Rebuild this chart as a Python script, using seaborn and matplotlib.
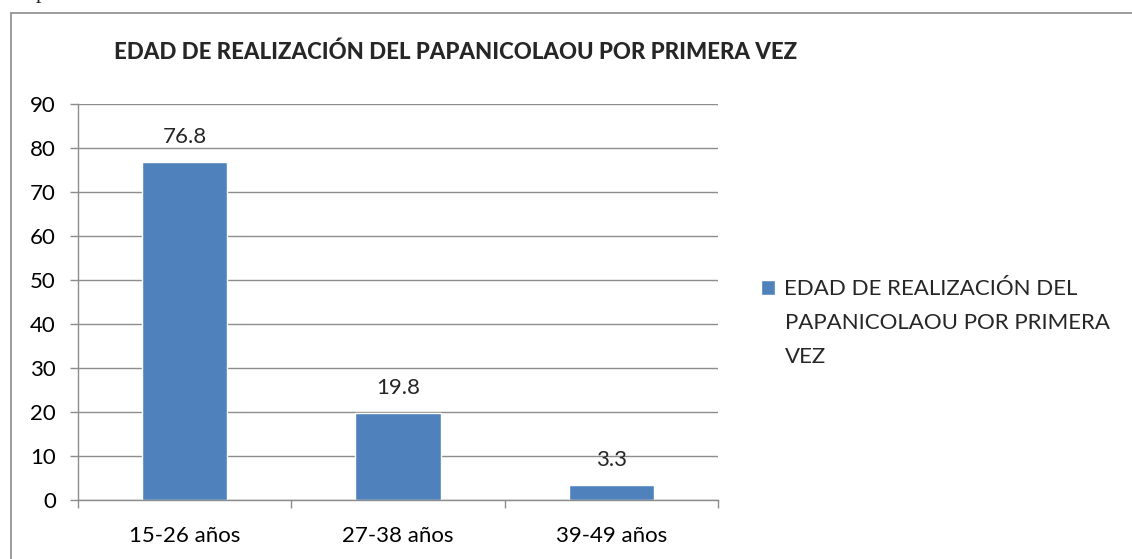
import matplotlib
matplotlib.use("Agg")
import matplotlib.pyplot as plt
import seaborn as sns
import pandas as pd
from matplotlib.patches import Rectangle

categories = ["15-26 años", "27-38 años", "39-49 años"]
values = [76.8, 19.8, 3.3]
series_name = "EDAD DE REALIZACIÓN DEL PAPANICOLAOU POR PRIMERA VEZ"
legend_lines = ["EDAD DE REALIZACIÓN DEL", "PAPANICOLAOU POR PRIMERA", "VEZ"]
yticks = [0, 10, 20, 30, 40, 50, 60, 70, 80, 90]

sns.set_theme(style="white")
plt.rcParams['font.family'] = ['Lato', 'DejaVu Sans']

bar_color = "#4F81BD"
grid_color = "#8C8C8C"
W, H = 1132, 559

df = pd.DataFrame({"cat": categories, "val": values, "serie": [series_name] * len(categories)})

fig = plt.figure(figsize=(W / 100, H / 100), dpi=100)
ax = fig.add_axes([78 / W, 1 - 500 / H, 640 / W, 396 / H])

sns.barplot(data=df, x="cat", y="val", hue="serie", palette=[bar_color],
            width=0.4, ax=ax, saturation=1, legend=True)

ax.set_ylim(0, 90)
ax.set_xlim(-0.5, 2.5)
ax.set_yticks(yticks)
ax.set_xlabel("")
ax.set_ylabel("")
ax.yaxis.grid(True, color=grid_color, linewidth=1)
ax.set_axisbelow(True)
for s in ["top", "right"]:
    ax.spines[s].set_visible(False)
for s in ["left", "bottom"]:
    ax.spines[s].set_color(grid_color)
    ax.spines[s].set_linewidth(1)

ax.tick_params(axis="y", which="major", length=6, width=1, color=grid_color,
               direction="out", left=True, labelsize=16, pad=10, labelcolor="black")
ax.tick_params(axis="x", which="major", length=0, labelsize=16, pad=19, labelcolor="black")
ax.set_xticks([-0.5, 0.5, 1.5, 2.5], minor=True)
ax.tick_params(axis="x", which="minor", length=6, width=1, color=grid_color,
               direction="out", bottom=True)

for cont in ax.containers:
    ax.bar_label(cont, labels=[f"{v:.1f}" for v in values], padding=11, fontsize=16)

handles, _ = ax.get_legend_handles_labels()
leg = ax.legend(handles, [legend_lines[0]], loc="center left",
                bbox_to_anchor=(761 / W, 1 - 289 / H),
                bbox_transform=fig.transFigure, frameon=False, fontsize=16,
                handlelength=0.65, handleheight=0.65, handletextpad=0.4,
                borderpad=0, borderaxespad=0)
for i, line in enumerate(legend_lines[1:], start=1):
    fig.text(785 / W, 1 - (289 + 34 * i) / H, line, fontsize=16, va="center", ha="left")

fig.text(456 / W, 1 - 52 / H, series_name, ha="center", va="center",
         fontsize=16, fontweight=900)

fig.patches.append(Rectangle((11 / W, -0.1), 1.2, 1.1 - 13 / H, transform=fig.transFigure,
                             fill=False, edgecolor="#8C8C8C", linewidth=1.2, clip_on=False))
fig.text(41 / W, 1.004, "p", family="Liberation Serif", fontsize=16, va="baseline", ha="center")

fig.savefig("out.png", dpi=100)
